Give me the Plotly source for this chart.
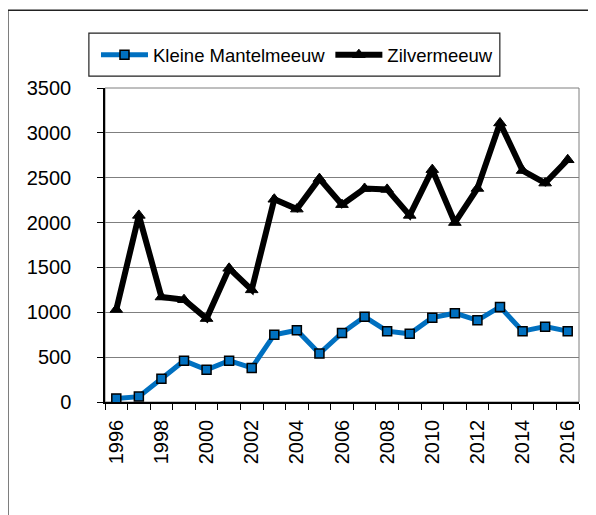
import plotly.graph_objects as go

# Jaarlijkse aantallen broedparen
years = list(range(1996, 2017))
kleine_mantelmeeuw = [40, 60, 260, 460, 360, 460, 380, 750, 800, 540, 770,
                      950, 790, 760, 940, 990, 910, 1060, 790, 840, 790]
zilvermeeuw = [1030, 2080, 1170, 1140, 930, 1490, 1250, 2260, 2150, 2490, 2200,
               2380, 2370, 2080, 2590, 2000, 2380, 3110, 2580, 2440, 2700]
year_labels = list(range(1996, 2017, 2))
y_ticks = list(range(0, 3501, 500))

FONT = 'Liberation Sans, Arial, sans-serif'

fig = go.Figure()

fig.add_trace(go.Scatter(
    x=years,
    y=kleine_mantelmeeuw,
    name='Kleine Mantelmeeuw',
    mode='lines+markers',
    line=dict(color='#0070c0', width=5),
    marker=dict(symbol='square', size=9, color='#0070c0',
                line=dict(color='black', width=1.5))
))

fig.add_trace(go.Scatter(
    x=years,
    y=zilvermeeuw,
    name='Zilvermeeuw',
    mode='lines+markers',
    line=dict(color='black', width=6),
    marker=dict(symbol='triangle-up', size=11, color='black',
                line=dict(color='black', width=1))
))

# page body has an 8px margin, so the figure is a bit smaller than the window
fig.update_layout(
    width=588,
    height=507,
    margin=dict(l=97, r=17, t=80, b=113),
    paper_bgcolor='white',
    plot_bgcolor='white',
    font=dict(family=FONT, size=20, color='black'),
    showlegend=True,
    legend=dict(
        orientation='h',
        x=-0.019, y=1.165,
        xanchor='left', yanchor='top',
        borderwidth=0,
        bgcolor='rgba(0,0,0,0)',
        font=dict(size=18.5),
        itemwidth=47,
        tracegroupgap=0,
    ),
    xaxis=dict(
        range=[1995.5, 2016.5],
        tickmode='array',
        tickvals=year_labels,
        ticktext=[str(y) for y in year_labels],
        tickangle=-90,
        ticks='',
        ticklabelstandoff=8,
        showgrid=False,
        showline=True,
        linecolor='black',
        linewidth=1.5,
        zeroline=False,
        minor=dict(tick0=1995.5, dtick=1, ticks='outside', ticklen=6,
                   tickcolor='black', tickwidth=1, showgrid=False),
    ),
    yaxis=dict(
        range=[0, 3500],
        tickmode='array',
        tickvals=y_ticks,
        ticks='outside',
        ticklen=6,
        tickcolor='black',
        ticklabelstandoff=22,
        showgrid=True,
        gridcolor='#7f7f7f',
        gridwidth=1,
        showline=True,
        linecolor='black',
        linewidth=1.5,
        zeroline=False,
    ),
    shapes=[
        # plot area frame
        dict(type='rect', xref='paper', yref='paper', x0=0, x1=1, y0=0, y1=1,
             line=dict(color='#7f7f7f', width=1), layer='below'),
        # legend box
        dict(type='rect', xref='paper', yref='paper',
             x0=-0.034, x1=0.833, y0=1.038, y1=1.175,
             line=dict(color='#222222', width=1.2), fillcolor='white',
             layer='below'),
        # chart border
        dict(type='rect', xref='paper', yref='paper',
             x0=-0.205, x1=1.1, y0=-0.37, y1=1.248,
             line=dict(color='#222222', width=1.5)),
    ],
)

fig.write_html("out.html")
